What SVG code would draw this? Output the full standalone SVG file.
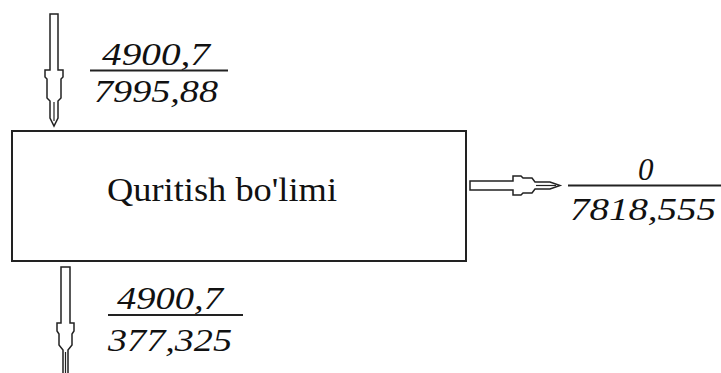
<svg xmlns="http://www.w3.org/2000/svg" width="721" height="373" viewBox="0 0 721 373">
<style>
.box{fill:#fff;stroke:#222;stroke-width:2}
.arr{fill:#fff;stroke:#222;stroke-width:1.5;stroke-linejoin:miter}
.ln{stroke:#222;stroke-width:2}
.thin{stroke:#222;stroke-width:1.2;fill:none}
.num{font-style:italic;font-size:31px;fill:#111}
.lbl{font-size:34px;fill:#111}
</style>
<rect x="0" y="0" width="721" height="373" fill="#fff"/>
<g id="node-quritish">
<rect class="box" x="12" y="131" width="454" height="130"/>
<text class="lbl" font-family="Liberation Serif, DejaVu Serif, serif" x="107" y="201" textLength="230" lengthAdjust="spacingAndGlyphs">Quritish bo'limi</text>
</g>
<g id="connectors">
<path class="arr" d="M50,14 H58 V70 H63 V77 L61,79 V98 L58,101 V118 L54,126 L50,118 V101 L47,98 V79 L45,77 V70 H50 Z"/>
<path class="thin" d="M54,102 V121"/>
<path class="arr" d="M61,267 H70 V323 H74 V331 L72,334 V345 L68,350 V374 H63 V350 L59,345 V334 L57,331 V323 H61 Z"/>
<path class="thin" d="M65.5,352 V373"/>
<path class="arr" d="M470,181 H513 V176 H521 L523,178 H532 L535,182 H550 L560,185.5 L550,189 H535 L532,193 H523 L521,195 H513 V190 H470 Z"/>
<path class="thin" d="M536,185.5 H556"/>
</g>
<g id="label-in" font-family="Liberation Serif, DejaVu Serif, serif">
<text class="num" x="102" y="65" textLength="108" lengthAdjust="spacingAndGlyphs">4900,7</text>
<line class="ln" x1="90" y1="70.5" x2="228" y2="70.5"/>
<text class="num" x="94" y="102" textLength="124" lengthAdjust="spacingAndGlyphs">7995,88</text>
</g>
<g id="label-out-bottom" font-family="Liberation Serif, DejaVu Serif, serif">
<text class="num" x="117" y="309" textLength="106" lengthAdjust="spacingAndGlyphs">4900,7</text>
<line class="ln" x1="108" y1="315" x2="243" y2="315"/>
<text class="num" x="108" y="351" textLength="124" lengthAdjust="spacingAndGlyphs">377,325</text>
</g>
<g id="label-out-right" font-family="Liberation Serif, DejaVu Serif, serif">
<text class="num" x="638" y="180">0</text>
<line class="ln" x1="568" y1="185.5" x2="721" y2="185.5"/>
<text class="num" x="570" y="220" textLength="146" lengthAdjust="spacingAndGlyphs">7818,555</text>
</g>
</svg>
